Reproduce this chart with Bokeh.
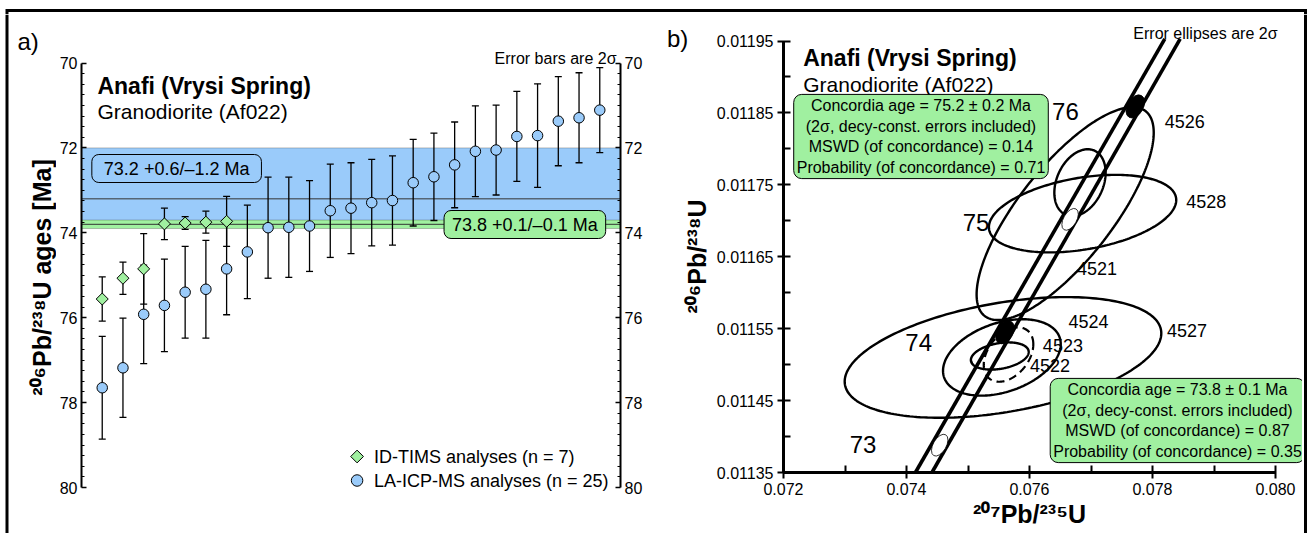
import numpy as np
from bokeh.plotting import figure
from bokeh.models import (Range1d, LinearAxis, FixedTicker, PrintfTickFormatter,
                          BoxAnnotation, Span, Label, Whisker, TeeHead, ColumnDataSource)
from bokeh.layouts import row, column
from bokeh.embed import file_html
from bokeh.resources import INLINE
from bokeh.core.properties import value

# ===================== data : panel a =====================
la_spot = list(range(1, 26))
la_age = [77.65, 77.18, 75.92, 75.71, 75.40, 75.33, 74.85, 74.45, 73.88, 73.87, 73.84,
          73.48, 73.42, 73.29, 73.24, 72.82, 72.68, 72.40, 72.08, 72.05, 71.73, 71.71,
          71.37, 71.29, 71.11]
la_err2s = [1.21, 1.17, 1.16, 1.09, 1.08, 1.15, 1.08, 1.10, 1.19, 1.18, 1.07,
            1.10, 1.07, 1.02, 1.05, 1.02, 1.03, 1.01, 1.07, 1.06, 1.06, 1.22,
            1.05, 1.06, 1.00]
id_spot = list(range(1, 8))
id_age = [75.56, 75.07, 74.85, 73.79, 73.77, 73.75, 73.73]
id_err2s = [0.52, 0.38, 0.83, 0.37, 0.15, 0.26, 0.59]
la_mean, la_plus, la_minus = 73.2, 0.6, 1.2
id_mean, id_plus, id_minus = 73.8, 0.1, 0.1
age_ticks = [70, 72, 74, 76, 78, 80]
age_minor = [70.25, 70.5, 70.75, 71.0, 71.25, 71.5, 71.75, 72.25, 72.5, 72.75, 73.0, 73.25,
             73.5, 73.75, 74.25, 74.5, 74.75, 75.0, 75.25, 75.5, 75.75, 76.25, 76.5, 76.75,
             77.0, 77.25, 77.5, 77.75, 78.25, 78.5, 78.75, 79.0, 79.25, 79.5, 79.75]
la_text = "73.2 +0.6/\u20131.2 Ma"
id_text = "73.8 +0.1/\u20130.1 Ma"
legend_text = ["ID-TIMS analyses (n = 7)", "LA-ICP-MS analyses (n = 25)"]

# ===================== data : panel b =====================
ell_name = ["4521", "4526", "4528", "4527", "4524", "4522", "4523"]
ell_x = [0.07658, 0.076821, 0.076863, 0.075569, 0.075551, 0.075517, 0.075659]
ell_y = [0.011710, 0.011753, 0.011710, 0.011510, 0.011510, 0.011512, 0.011514]
ell_sx = [0.00144, 0.000417, 0.001523, 0.002574, 0.000957, 0.000470, 0.000403]
ell_sy = [0.000148, 0.0000465, 0.0000539, 0.0000839, 0.0000531, 0.0000189, 0.0000378]
ell_rho = [0.76, 0.30, 0.35, 0.40, 0.35, 0.30, 0.38]
ell_dashed = [False, False, False, False, False, False, True]
ell_label_x = [0.077099, 0.078525, 0.078873, 0.078560, 0.076960, 0.076334, 0.076543]
ell_label_y = [0.011634, 0.011838, 0.011727, 0.011547, 0.011560, 0.011499, 0.011526]

conc_age = [73, 74, 75, 76]
conc_x = [0.07454, 0.07560, 0.07666, 0.07772]
conc_y = [0.011388, 0.011545, 0.011702, 0.011859]
conc_label_x = [0.073294, 0.074198, 0.075130, 0.076584]
conc_label_y = [0.011389, 0.011531, 0.011698, 0.011852]
env_y = [0.01135, 0.011953]
env_x_young = [0.074145, 0.078200]
env_x_old = [0.074414, 0.078450]

x_ticks_b = [0.072, 0.074, 0.076, 0.078, 0.080]
x_minor_b = [0.073, 0.075, 0.077, 0.079]
y_ticks_b = [0.01135, 0.01145, 0.01155, 0.01165, 0.01175, 0.01185, 0.01195]
y_minor_b = [0.0114, 0.0115, 0.0116, 0.0117, 0.0118, 0.0119]

box_old = ["Concordia age = 75.2 \u00b1 0.2 Ma", "(2\u03c3, decy-const. errors included)",
           "MSWD (of concordance) = 0.14", "Probability (of concordance) = 0.71"]
box_young = ["Concordia age = 73.8 \u00b1 0.1 Ma", "(2\u03c3, decy-const. errors included)",
             "MSWD (of concordance) = 0.87", "Probability (of concordance) = 0.35"]

# ===================== styling / layout =====================
FONT = "Liberation Sans"
BLUE = "#9ACBFA"
GREEN = "#A0F0A0"
LINE = "#333333"
INK = "black"
W, H = 1310, 533
TOP = 14
ROW_H = H - TOP
BORDER_L, BORDER_R, BORDER_T = 6.5, 1305, 10


def strip(width, height, x0, y0):
    s = figure(width=width, height=height, x_range=Range1d(x0, x0 + width),
               y_range=Range1d(y0 + height, y0), x_axis_type=None, y_axis_type=None,
               min_border=0, toolbar_location=None, output_backend="svg")
    s.outline_line_color = None
    return s


# ---------- panel a geometry (page pixels) ----------
A_X0, A_FL, A_FR, A_X1 = 56, 79, 620, 650
A_Y80, A_Y70 = 487, 62.5
a_ppu = (A_Y80 - A_Y70) / 10.0
a_y_top = 70 - (A_Y70 - TOP) / a_ppu
a_y_bottom = 80 + (H - A_Y80) / a_ppu


def ax(px):
    return (px - A_FL) / (A_FR - A_FL) * 26.0


def ay(py):
    return 70 + (py - A_Y70) / a_ppu


pa = figure(width=A_X1 - A_X0, height=ROW_H, x_range=Range1d(0, 26),
            y_range=Range1d(a_y_bottom, a_y_top),
            x_axis_type=None, y_axis_type=None, toolbar_location=None, output_backend="svg",
            min_border_left=A_FL - A_X0, min_border_right=A_X1 - A_FR, min_border_top=0,
            min_border_bottom=0)
pa.outline_line_color = None

for side in ("left", "right"):
    axis = LinearAxis(ticker=FixedTicker(ticks=age_ticks, minor_ticks=age_minor),
                      formatter=PrintfTickFormatter(format="%d"), bounds=(70, 80))
    axis.axis_line_width = 2
    axis.axis_line_color = INK
    axis.major_tick_in = 5
    axis.major_tick_out = 0
    axis.minor_tick_in = 3
    axis.minor_tick_out = 0
    axis.major_tick_line_width = 1.5
    axis.minor_tick_line_width = 1.2
    axis.major_tick_line_color = INK
    axis.minor_tick_line_color = INK
    axis.major_label_text_font = FONT
    axis.major_label_text_font_size = "16px"
    axis.major_label_text_color = INK
    axis.major_label_standoff = 4
    pa.add_layout(axis, side)

pa.add_layout(BoxAnnotation(top=la_mean - la_minus, bottom=la_mean + la_plus, fill_color=BLUE,
                            fill_alpha=1, line_color=LINE, line_width=1, level="underlay"))
pa.add_layout(Span(location=la_mean, dimension="width", line_color=LINE, line_width=1,
                   level="underlay"))
pa.add_layout(BoxAnnotation(top=id_mean - id_minus, bottom=id_mean + id_plus, fill_color=GREEN,
                            fill_alpha=1, line_color=LINE, line_width=1, level="underlay"))
pa.add_layout(Span(location=id_mean, dimension="width", line_color=LINE, line_width=1,
                   level="underlay"))

la_src = ColumnDataSource(dict(x=la_spot, age=la_age,
                               lo=[a - e for a, e in zip(la_age, la_err2s)],
                               hi=[a + e for a, e in zip(la_age, la_err2s)]))
id_src = ColumnDataSource(dict(x=id_spot, age=id_age,
                               lo=[a - e for a, e in zip(id_age, id_err2s)],
                               hi=[a + e for a, e in zip(id_age, id_err2s)]))
for src in (la_src, id_src):
    pa.add_layout(Whisker(source=src, base="x", lower="lo", upper="hi", dimension="height",
                          line_color=INK, line_width=1.3, level="underlay",
                          lower_head=TeeHead(size=7, line_width=1.3, line_color=INK),
                          upper_head=TeeHead(size=7, line_width=1.3, line_color=INK)))

pa.scatter("x", "age", source=la_src, marker="circle", size=10.5, fill_color=BLUE,
           line_color=INK, line_width=1)
pa.scatter("x", "age", source=id_src, marker="square", angle=np.pi / 4, size=8.5,
           fill_color=GREEN, line_color=INK, line_width=1)

pa.add_layout(Label(x=ax(95), y=ay(85.5), text="Anafi (Vrysi Spring)", text_font=FONT,
                    text_font_style="bold", text_font_size="23px", text_baseline="alphabetic",
                    text_color=INK))
pa.add_layout(Label(x=ax(95), y=ay(110.5), text="Granodiorite (Af022)", text_font=FONT,
                    text_font_size="21px", text_baseline="alphabetic", text_color=INK))
pa.add_layout(Label(x=ax(616), y=ay(58), text="Error bars are 2\u03c3", text_font=FONT,
                    text_font_size="16px", text_align="right", text_baseline="alphabetic",
                    text_color=INK))
pa.add_layout(Label(x=ax(174.5), y=ay(168), text=la_text, text_font=FONT, text_font_size="18px",
                    text_align="center", text_baseline="middle", background_fill_color=BLUE,
                    border_line_color=INK, border_line_width=1, border_radius=7,
                    padding=(12, 4), text_color=INK))
pa.add_layout(Label(x=ax(524), y=ay(224), text=id_text, text_font=FONT, text_font_size="18px",
                    text_align="center", text_baseline="middle", background_fill_color=GREEN,
                    border_line_color=INK, border_line_width=1, border_radius=7,
                    padding=(8, 4), text_color=INK))

# legend (key swatches)
leg_x = ax(355.6)
leg_y = [ay(456), ay(480)]
pa.scatter([leg_x], [leg_y[0]], marker="square", angle=np.pi / 4, size=9, fill_color=GREEN,
           line_color=INK, line_width=1)
pa.scatter([leg_x], [leg_y[1]], marker="circle", size=11.5, fill_color=BLUE,
           line_color=INK, line_width=1)
pa.text(x=[ax(372.5)] * 2, y=leg_y, text=legend_text, text_font=value(FONT),
        text_font_size="18px", text_baseline="middle", text_align="left", text_color=INK)

# ---------- panel b geometry (page pixels) ----------
B_X0, B_FR = 710, 1302
B_X072, B_X080 = 783, 1275
B_Y1135, B_Y1195 = 472, 40.5
b_xppu = (B_X080 - B_X072) / 0.008
b_yppu = (B_Y1135 - B_Y1195) / 0.0006


def bx(px):
    return 0.072 + (px - B_X072) / b_xppu


def by(py):
    return 0.01135 + (B_Y1135 - py) / b_yppu


pb = figure(width=B_FR - B_X0, height=ROW_H, x_range=Range1d(bx(B_X0), bx(B_FR)),
            y_range=Range1d(by(H), by(TOP)), toolbar_location=None, output_backend="svg",
            min_border=0)
pb.grid.visible = False
pb.outline_line_color = None

xa = pb.xaxis[0]
xa.ticker = FixedTicker(ticks=x_ticks_b, minor_ticks=x_minor_b)
xa.formatter = PrintfTickFormatter(format="%.3f")
xa.bounds = (0.072, 0.080)
xa.fixed_location = 0.01135
xa.axis_label = "\u00b2\u2070\u2077Pb/\u00b2\u00b3\u2075U"
ya = pb.yaxis[0]
ya.ticker = FixedTicker(ticks=y_ticks_b, minor_ticks=y_minor_b)
ya.formatter = PrintfTickFormatter(format="%.5f")
ya.bounds = (0.01135, 0.01195)
ya.fixed_location = 0.072
for axis in (xa, ya):
    axis.axis_line_width = 3
    axis.axis_line_color = INK
    axis.major_tick_in = 7
    axis.major_tick_out = 6
    axis.minor_tick_in = 7
    axis.minor_tick_out = 0
    axis.major_tick_line_width = 2
    axis.minor_tick_line_width = 2
    axis.major_tick_line_color = INK
    axis.minor_tick_line_color = INK
    axis.major_label_text_font = FONT
    axis.major_label_text_font_size = "16px"
    axis.major_label_text_color = INK
    axis.major_label_standoff = 4
    axis.axis_label_text_font = FONT
    axis.axis_label_text_font_size = "25px"
    axis.axis_label_text_font_style = "bold"
    axis.axis_label_text_color = INK
    axis.axis_label_standoff = 2

t = np.linspace(0, 2 * np.pi, 241)
xs_s, ys_s, xs_d, ys_d = [], [], [], []
for cx, cy, sx, sy, r, d in zip(ell_x, ell_y, ell_sx, ell_sy, ell_rho, ell_dashed):
    ex = cx + sx * np.cos(t)
    ey = cy + sy * (r * np.cos(t) + np.sqrt(1 - r * r) * np.sin(t))
    if d:
        xs_d.append(list(ex)); ys_d.append(list(ey))
    else:
        xs_s.append(list(ex)); ys_s.append(list(ey))
pb.multi_line(xs_s, ys_s, line_color=INK, line_width=2.4)
pb.multi_line(xs_d, ys_d, line_color=INK, line_width=2.2, line_dash="8 5")

pb.line(env_x_young, env_y, line_color=INK, line_width=3.6)
pb.line(env_x_old, env_y, line_color=INK, line_width=3.6)

conc_angle = float(np.arctan2((conc_y[-1] - conc_y[0]) * b_yppu, (conc_x[-1] - conc_x[0]) * b_xppu))
conc_fill = ["black" if a % 2 == 0 else "white" for a in conc_age]
conc_w = [25 if a % 2 == 0 else 24 for a in conc_age]
conc_h = [16 if a % 2 == 0 else 13 for a in conc_age]
pb.ellipse(x=conc_x, y=conc_y, width=conc_w, height=conc_h, angle=conc_angle,
           width_units="screen", height_units="screen", fill_color=conc_fill,
           line_color=INK, line_width=0.8)

pb.text(x=ell_label_x, y=ell_label_y, text=ell_name, text_font=value(FONT),
        text_font_size="18px", text_align="center", text_baseline="middle", text_color=INK)
pb.text(x=conc_label_x, y=conc_label_y, text=[str(a) for a in conc_age], text_font=value(FONT),
        text_font_size="24px", text_align="center", text_baseline="middle", text_color=INK)

pb.add_layout(Label(x=bx(802.7), y=by(57), text="Anafi (Vrysi Spring)", text_font=FONT,
                    text_font_style="bold", text_font_size="23px", text_baseline="alphabetic",
                    text_color=INK))
pb.add_layout(Label(x=bx(802.7), y=by(84), text="Granodiorite (Af022)", text_font=FONT,
                    text_font_size="21px", text_baseline="alphabetic", text_color=INK))
pb.add_layout(Label(x=bx(1277), y=by(33), text="Error ellipses are 2\u03c3", text_font=FONT,
                    text_font_size="16px", text_align="right", text_baseline="alphabetic",
                    text_color=INK))
for lines, (px, py) in ((box_old, (920.5, 136)), (box_young, (1177, 420))):
    pb.add_layout(Label(x=bx(px), y=by(py), text="\n".join(lines), text_font=FONT,
                        text_font_size="16px", text_align="center", text_baseline="middle",
                        text_line_height=1.2, background_fill_color=GREEN,
                        border_line_color=INK, border_line_width=1, border_radius=8,
                        padding=3, text_color=INK))

# ---------- strips carrying panel letters, y titles and the outer frame ----------
top = strip(W, TOP, 0, 0)
top.line([BORDER_L, BORDER_L, BORDER_R, BORDER_R], [TOP, BORDER_T, BORDER_T, TOP],
         line_color=INK, line_width=3, line_join="miter")

left = strip(A_X0, ROW_H, 0, TOP)
left.line([BORDER_L, BORDER_L], [TOP, H], line_color=INK, line_width=3)
left.text(x=[17], y=[41], text=["a)"], text_font=value(FONT), text_font_size="24px",
          text_baseline="alphabetic", text_color=INK)
left.text(x=[41], y=[277], text=["\u00b2\u2070\u2076Pb/\u00b2\u00b3\u2078U ages [Ma]"],
          angle=np.pi / 2, text_font=value(FONT), text_font_style="bold",
          text_font_size="25px", text_align="center", text_baseline="middle", text_color=INK)

mid = strip(B_X0 - A_X1, ROW_H, A_X1, TOP)
mid.text(x=[666.5], y=[38], text=["b)"], text_font=value(FONT), text_font_size="24px",
         text_baseline="alphabetic", text_color=INK)
mid.text(x=[696], y=[256], text=["\u00b2\u2070\u2076Pb/\u00b2\u00b3\u2078U"], angle=np.pi / 2,
         text_font=value(FONT), text_font_style="bold", text_font_size="25px",
         text_align="center", text_baseline="middle", text_color=INK)

right = strip(W - B_FR, ROW_H, B_FR, TOP)
right.line([BORDER_R, BORDER_R], [TOP, H], line_color=INK, line_width=3)

layout = column(top, row(left, pa, mid, pb, right))
open("out.html", "w").write(file_html(layout, INLINE))
